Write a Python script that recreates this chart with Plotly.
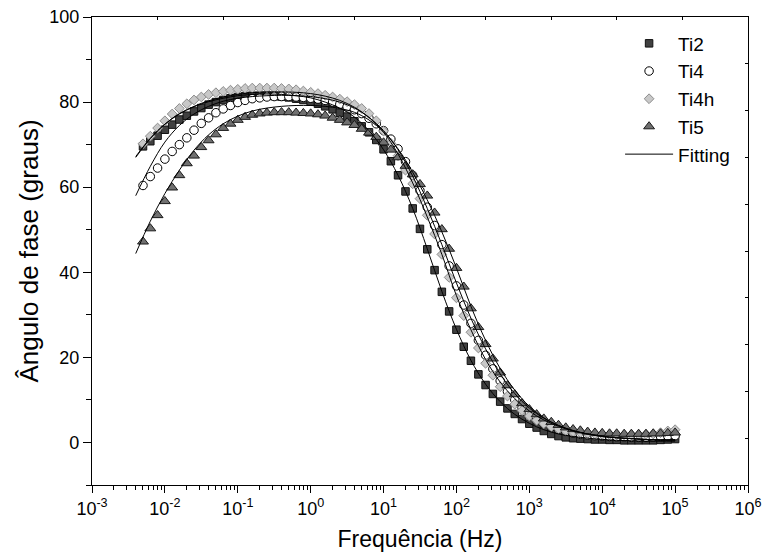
import plotly.graph_objects as go

# measured frequencies (Hz), 10 points per decade
freq = [5.01e-3, 6.31e-3, 7.94e-3,
        0.01, 0.0126, 0.0158, 0.02, 0.0251, 0.0316, 0.0398, 0.0501, 0.0631, 0.0794,
        0.1, 0.126, 0.158, 0.2, 0.251, 0.316, 0.398, 0.501, 0.631, 0.794,
        1.0, 1.26, 1.58, 2.0, 2.51, 3.16, 3.98, 5.01, 6.31, 7.94,
        10.0, 12.6, 15.8, 20.0, 25.1, 31.6, 39.8, 50.1, 63.1, 79.4,
        100.0, 126.0, 158.0, 200.0, 251.0, 316.0, 398.0, 501.0, 631.0, 794.0,
        1.0e3, 1.26e3, 1.58e3, 2.0e3, 2.51e3, 3.16e3, 3.98e3, 5.01e3, 6.31e3, 7.94e3,
        1.0e4, 1.26e4, 1.58e4, 2.0e4, 2.51e4, 3.16e4, 3.98e4, 5.01e4, 6.31e4, 7.94e4,
        1.0e5]

ti2 = [69.6, 70.8, 72.1,
       73.5, 74.7, 75.9, 76.8, 77.8, 78.6, 79.4, 80.0, 80.5, 80.9,
       81.2, 81.4, 81.5, 81.5, 81.5, 81.4, 81.3, 81.1, 80.8, 80.5,
       80.1, 79.6, 79.0, 78.3, 77.5, 76.6, 75.5, 74.3, 72.9, 71.1,
       68.9, 66.1, 62.8, 59.0, 55.0, 50.2, 45.4, 40.5, 35.4, 30.8,
       26.5, 22.5, 19.2, 16.0, 13.5, 11.4, 9.6, 8.0, 6.7, 5.5,
       4.4, 3.5, 2.7, 2.0, 1.5, 1.2, 1.0, 0.9, 0.8, 0.7,
       0.7, 0.6, 0.6, 0.5, 0.5, 0.5, 0.5, 0.5, 0.6, 0.7,
       0.8]

ti4 = [60.4, 62.5, 64.5,
       66.6, 68.4, 70.0, 71.6, 73.4, 75.0, 76.3, 77.5, 78.4, 79.2,
       79.9, 80.4, 80.8, 81.0, 81.2, 81.3, 81.3, 81.3, 81.2, 81.1,
       80.9, 80.7, 80.4, 80.0, 79.5, 78.9, 78.2, 77.3, 76.2, 74.9,
       73.3, 71.3, 69.0, 66.0, 62.8, 59.2, 55.3, 51.0, 46.5, 41.5,
       36.8, 32.3, 28.0, 24.0, 20.5, 17.3, 14.5, 12.0, 10.0, 8.2,
       6.7, 5.5, 4.5, 3.7, 3.1, 2.6, 2.2, 1.9, 1.7, 1.6,
       1.5, 1.4, 1.3, 1.3, 1.2, 1.2, 1.2, 1.3, 1.4, 1.5,
       1.6]

ti4h = [70.2, 72.0, 73.9,
        75.6, 77.2, 78.5, 79.6, 80.5, 81.2, 81.8, 82.2, 82.5, 82.8,
        83.0, 83.2, 83.3, 83.3, 83.3, 83.3, 83.2, 83.1, 82.9, 82.6,
        82.3, 82.0, 81.6, 81.2, 80.7, 80.1, 79.4, 78.5, 77.3, 75.6,
        73.2, 70.3, 67.4, 64.0, 60.8, 57.3, 53.4, 49.0, 44.2, 38.8,
        34.0, 29.8, 25.9, 22.2, 18.6, 15.8, 13.1, 10.9, 9.0, 7.5,
        6.2, 5.2, 4.4, 3.7, 3.2, 2.8, 2.5, 2.3, 2.1, 2.0,
        1.9, 1.8, 1.8, 1.8, 1.8, 1.8, 1.9, 2.0, 2.3, 2.7,
        3.0]

ti5 = [47.2, 50.3, 53.4,
       56.7, 59.9, 62.8, 65.6, 67.4, 69.4, 71.0, 72.4, 73.9, 74.9,
       75.8, 76.5, 77.0, 77.3, 77.5, 77.6, 77.6, 77.6, 77.5, 77.4,
       77.3, 77.1, 76.8, 76.3, 75.8, 75.2, 74.6, 73.7, 72.8, 71.8,
       70.5, 68.8, 67.0, 65.0, 63.0, 60.7, 58.0, 54.0, 50.1, 45.5,
       41.0, 36.6, 31.5, 27.1, 23.1, 19.7, 16.4, 13.4, 11.3, 9.2,
       7.8, 6.6, 5.6, 4.8, 4.1, 3.5, 3.1, 2.8, 2.5, 2.3,
       2.2, 2.1, 2.1, 2.0, 2.0, 2.0, 2.0, 2.1, 2.1, 2.2,
       2.3]

# fitted curves (equivalent circuit), 5 points per decade
freq_fit = [3.98e-3, 6.31e-3,
            0.01, 0.0158, 0.0251, 0.0398, 0.0631,
            0.1, 0.158, 0.251, 0.398, 0.631,
            1.0, 1.58, 2.51, 3.98, 6.31,
            10.0, 15.8, 25.1, 39.8, 63.1,
            100.0, 158.0, 251.0, 398.0, 631.0,
            1.0e3, 1.58e3, 2.51e3, 3.98e3, 6.31e3,
            1.0e4, 1.58e4, 2.51e4, 3.98e4, 6.31e4,
            1.0e5]

fit_ti2 = [67.2, 71.5, 74.8, 77.2, 78.9, 80.1, 80.9, 81.5, 81.8, 81.9,
           81.8, 81.5, 81.0, 80.0, 78.6, 76.5, 73.3, 68.8, 62.8, 55.0,
           45.5, 35.5, 26.6, 19.3, 13.7, 9.6, 6.6, 4.5, 3.0, 2.0,
           1.4, 1.0, 0.7, 0.5, 0.4, 0.3, 0.3, 0.3]
fit_ti4 = [58.0, 64.9, 70.6, 74.5, 77.2, 79.0, 80.2, 80.9, 81.3, 81.5,
           81.6, 81.5, 81.3, 80.8, 80.0, 78.6, 76.4, 73.3, 68.8, 62.6,
           55.0, 46.5, 37.5, 29.2, 22.0, 16.1, 11.5, 8.1, 5.7, 4.0,
           2.8, 2.0, 1.4, 1.1, 0.9, 0.7, 0.6, 0.6]
fit_ti4h = [67.0, 71.4, 74.8, 77.3, 79.0, 80.3, 81.2, 81.8, 82.2, 82.4,
            82.4, 82.3, 82.0, 81.4, 80.4, 78.8, 76.4, 72.9, 67.8, 61.0,
            53.0, 44.2, 34.5, 26.5, 19.5, 14.2, 10.3, 7.4, 5.3, 3.8,
            2.7, 2.0, 1.5, 1.1, 0.9, 0.7, 0.6, 0.6]
fit_ti5 = [44.4, 52.0, 58.5, 64.0, 68.7, 72.3, 74.9, 76.7, 77.9, 78.6,
           79.0, 79.2, 79.2, 79.0, 78.5, 77.6, 75.8, 73.0, 69.0, 63.5,
           57.0, 49.5, 41.0, 32.0, 24.0, 17.4, 12.3, 8.5, 5.8, 4.0,
           2.8, 2.0, 1.4, 1.1, 0.9, 0.7, 0.6, 0.6]

xtick_vals = [1e-3, 1e-2, 1e-1, 1e0, 1e1, 1e2, 1e3, 1e4, 1e5, 1e6]
xtick_text = ["10<sup>-3</sup>", "10<sup>-2</sup>", "10<sup>-1</sup>", "10<sup>0</sup>",
              "10<sup>1</sup>", "10<sup>2</sup>", "10<sup>3</sup>", "10<sup>4</sup>",
              "10<sup>5</sup>", "10<sup>6</sup>"]

FONT = "Liberation Sans, Arial, sans-serif"

fig = go.Figure()

series = [
    ("Ti2", ti2, dict(symbol="square", size=7.5, color="#404040", line=dict(color="#111111", width=1))),
    ("Ti4", ti4, dict(symbol="circle", size=8.5, color="white", line=dict(color="black", width=1))),
    ("Ti4h", ti4h, dict(symbol="diamond", size=7.5, color="#c8c8c8", line=dict(color="#8c8c8c", width=1))),
    ("Ti5", ti5, dict(symbol="triangle-up", size=9.5, color="#707070", line=dict(color="#1a1a1a", width=1))),
]
for name, vals, mk in series:
    fig.add_trace(go.Scatter(x=freq, y=vals, mode="markers", name=name, marker=mk))

fits = [fit_ti2, fit_ti4, fit_ti4h, fit_ti5]
for i, vals in enumerate(fits):
    fig.add_trace(go.Scatter(
        x=freq_fit, y=vals, mode="lines", name="Fitting",
        line=dict(color="black", width=1, shape="spline", smoothing=1),
        showlegend=(i == 0),
    ))

# invisible trace so the mirrored top/right axes get drawn
fig.add_trace(go.Scatter(x=[0], y=[0], xaxis="x2", yaxis="y2", mode="markers",
                         marker=dict(opacity=0), showlegend=False, hoverinfo="skip"))

fig.update_layout(
    width=766, height=559,
    margin=dict(l=92, r=18, t=17, b=74, autoexpand=False),
    paper_bgcolor="white", plot_bgcolor="white",
    font=dict(family=FONT, size=18, color="black"),
    showlegend=True,
    legend=dict(x=0.805, y=0.984, xanchor="left", yanchor="top", itemwidth=48,
                bgcolor="rgba(0,0,0,0)", font=dict(size=19), tracegroupgap=0),
    xaxis=dict(
        type="log", range=[-3, 6], automargin=False,
        tickvals=xtick_vals, ticktext=xtick_text,
        ticks="outside", ticklen=7, tickwidth=1.3, tickcolor="black",
        minor=dict(ticks="outside", ticklen=4, tickwidth=1.1, tickcolor="black",
                   dtick="D1", showgrid=False),
        showline=True, linecolor="black", linewidth=1.3,
        showgrid=False, zeroline=False,
        title=dict(text="Frequência (Hz)", font=dict(size=23), standoff=13),
    ),
    yaxis=dict(
        range=[-10, 100], dtick=20, tick0=0, automargin=False,
        ticks="outside", ticklen=8, tickwidth=1.3, tickcolor="black",
        minor=dict(ticks="outside", ticklen=5, tickwidth=1.1, tickcolor="black",
                   dtick=10, showgrid=False),
        showline=True, linecolor="black", linewidth=1.3,
        showgrid=False, zeroline=False,
        title=dict(text="Ângulo de fase (graus)", font=dict(size=26), standoff=3),
    ),
    xaxis2=dict(overlaying="x", side="top", range=[0, 10], dtick=1, automargin=False,
                ticks="inside", ticklen=3, tickcolor="black", showticklabels=False,
                showline=True, linecolor="black", linewidth=1.3,
                showgrid=False, zeroline=False),
    yaxis2=dict(overlaying="y", side="right", range=[0, 10], dtick=1, automargin=False,
                ticks="inside", ticklen=3, tickcolor="black", showticklabels=False,
                showline=True, linecolor="black", linewidth=1.3,
                showgrid=False, zeroline=False),
)

# drop the default page margin so the figure sits at the window's corner
fig.write_html("out.html", config={"displayModeBar": False},
               post_script="document.body.style.margin='0';")
